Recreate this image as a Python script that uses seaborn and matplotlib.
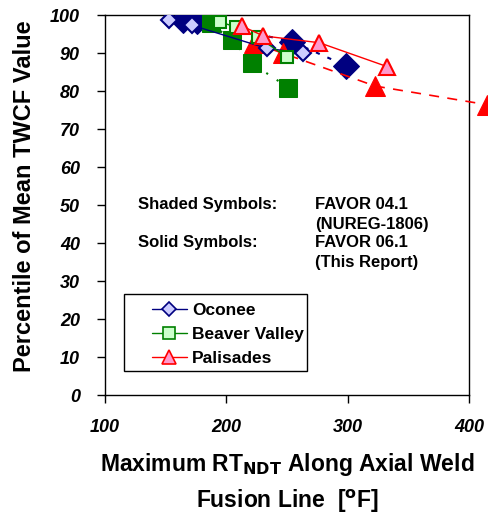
import matplotlib
matplotlib.use("Agg")
import matplotlib.pyplot as plt
from matplotlib.lines import Line2D
from matplotlib.patches import Rectangle
import pandas as pd
import seaborn as sns

# FAVOR 04.1 (shaded symbols) and FAVOR 06.1 (solid symbols) results
oconee_04_x = [152.8, 171.7, 233.6, 263.2]
oconee_04_y = [98.7, 97.3, 91.2, 90.0]
oconee_06_x = [164.3, 176.0, 253.9, 298.3]
oconee_06_y = [98.7, 98.5, 93.0, 86.7]

beaver_04_x = [194.8, 208.0, 226.0, 250.0]
beaver_04_y = [98.2, 96.8, 94.2, 88.9]
beaver_06_x = [187.1, 204.5, 220.9, 251.1]
beaver_06_y = [97.8, 93.4, 87.3, 80.9]

palisades_04_x = [212.7, 230.5, 276.7, 332.7]
palisades_04_y = [97.1, 94.5, 92.7, 86.4]
palisades_06_x = [222.8, 247.0, 322.6, 414.7]
palisades_06_y = [92.6, 89.9, 81.3, 76.4]

plant_names = ["Oconee", "Beaver Valley", "Palisades"]
x_ticks = [100, 200, 300, 400]
y_ticks = list(range(0, 101, 10))

sns.set_style("ticks")
plt.rcParams["font.family"] = ["Liberation Sans", "DejaVu Sans"]
plt.rcParams.update({"text.color": "black", "axes.labelcolor": "black",
                     "xtick.color": "black", "ytick.color": "black",
                     "axes.edgecolor": "black"})

fig = plt.figure(figsize=(4.88, 5.16), dpi=100)
ax = fig.add_axes([105 / 488, 1 - 395 / 516, 364 / 488, 380 / 516])

navy, green, red = "#000080", "#008000", "#FF0000"


def draw(xs, ys, **kw):
    df = pd.DataFrame({"x": xs, "y": ys})
    sns.lineplot(data=df, x="x", y="y", ax=ax, estimator=None, sort=False,
                 legend=False, **kw)


# solid symbols (FAVOR 06.1), dashed/dotted connectors
draw(oconee_06_x, oconee_06_y, color=navy, lw=1.5, dashes=(2, 4),
     marker="D", ms=13, mfc=navy, mec=navy, zorder=3)
draw(beaver_06_x, beaver_06_y, color=green, lw=1.5, dashes=(1, 5),
     marker="s", ms=12.5, mfc=green, mec=green, zorder=3)
draw(palisades_06_x, palisades_06_y, color=red, lw=1.2, dashes=(6, 5),
     marker="^", ms=15, mfc=red, mec=red, zorder=3, clip_on=False)

# shaded symbols (FAVOR 04.1), solid connectors
draw(oconee_04_x, oconee_04_y, color=navy, lw=1.0,
     marker="D", ms=8.5, mfc="#CCCCFF", mec=navy, mew=1.5, zorder=4)
draw(beaver_04_x, beaver_04_y, color=green, lw=1.0,
     marker="s", ms=9, mfc="#CCFFCC", mec=green, mew=1.5, zorder=4)
draw(palisades_04_x, palisades_04_y, color=red, lw=1.0,
     marker="^", ms=11, mfc="#FF99CC", mec=red, mew=1.5, zorder=4)

ax.set_xlim(100, 400)
ax.set_ylim(0, 100)
ax.set_xticks(x_ticks)
ax.set_yticks(y_ticks)
for lab in ax.get_xticklabels() + ax.get_yticklabels():
    lab.set_fontweight("bold")
    lab.set_fontstyle("italic")
    lab.set_fontsize(13)
ax.tick_params(direction="out", length=6, width=1, colors="black")
ax.tick_params(axis="x", pad=11)
ax.tick_params(axis="y", pad=12)
for s in ax.spines.values():
    s.set_visible(True)
    s.set_color("black")
    s.set_linewidth(1.0)

ax.set_xlabel("Maximum RT$_{\\mathbf{NDT}}$ Along Axial Weld\nFusion Line  [$^{\\mathbf{o}}$F]",
              fontsize=16.5, fontweight="bold", labelpad=11, linespacing=1.5)
ax.set_ylabel("Percentile of Mean TWCF Value", fontsize=17,
              fontweight="bold", labelpad=12)
ax.yaxis.set_label_coords(-0.19, 0.524)

txt = dict(fontsize=12, fontweight="bold", va="baseline", ha="left")
ax.text(127, 48.9, "Shaded Symbols:", **txt)
ax.text(273, 48.9, "FAVOR 04.1", **txt)
ax.text(273, 43.7, "(NUREG-1806)", **txt)
ax.text(127, 38.9, "Solid Symbols:", **txt)
ax.text(273, 38.9, "FAVOR 06.1", **txt)
ax.text(273, 33.7, "(This Report)", **txt)

# legend frame and entries
ax.add_patch(Rectangle((0.0522, 0.0632), 0.503, 0.2026, transform=ax.transAxes,
                       fill=True, facecolor="white", edgecolor="black",
                       lw=1.0, zorder=5))
handles = [
    Line2D([], [], color=navy, lw=1.0, marker="D", ms=7.5, mfc="#CCCCFF",
           mec=navy, mew=1.2),
    Line2D([], [], color=green, lw=1.0, marker="s", ms=8, mfc="#CCFFCC",
           mec=green, mew=1.2),
    Line2D([], [], color=red, lw=1.0, marker="^", ms=10, mfc="#FF99CC",
           mec=red, mew=1.2),
]
leg = ax.legend(handles, plant_names, loc="upper left",
                bbox_to_anchor=(0.129, 0.2421), borderaxespad=0,
                frameon=False, handlelength=2.0, borderpad=0,
                prop={"weight": "bold", "size": 12.5}, labelspacing=0.5,
                handletextpad=0.3)
leg.set_zorder(6)

fig.savefig("out.png", dpi=100)
